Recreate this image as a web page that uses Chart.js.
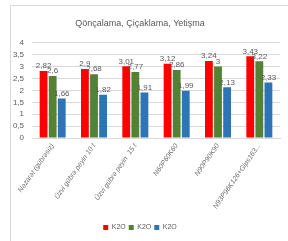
<!DOCTYPE html>
<html>
<head>
<meta charset="utf-8">
<script src="https://cdn.jsdelivr.net/npm/chart.js@4"></script>
<style>
  html, body { margin: 0; padding: 0; background: #fff; overflow: hidden; }
  .frame { position: absolute; left: 10px; top: 5px; width: 300px; height: 260px; border: 1px solid #d9d9d9; }
  .wrap { position: absolute; left: 0; top: 0; width: 288px; height: 241px; }
</style>
</head>
<body>
<div class="frame"></div>
<div class="wrap"><canvas id="chart" width="288" height="241"></canvas></div>
<script>
const categories = ["Nəzarət (gübrəsiz)", "Üzvi gübrə peyin 10 t", "Üzvi gübrə peyin  15 t", "N60P60K60", "N90P90K90", "N93P96K126+Gips163..."];
const redValues = [2.82, 2.9, 3.01, 3.12, 3.24, 3.43];
const greenValues = [2.6, 2.68, 2.77, 2.86, 3, 3.22];
const blueValues = [1.66, 1.82, 1.91, 1.99, 2.13, 2.33];
const seriesNames = ["K2O", "K2O", "K2O"];
const yTicks = [0, 0.5, 1, 1.5, 2, 2.5, 3, 3.5, 4];

const textGray = "#595959";
const fontFam = "'Liberation Sans Narrow', 'Liberation Sans', Arial, sans-serif";

const commaNum = function (v) {
  return String(v).replace(".", ",");
};

// value labels above every bar
const barLabels = {
  id: "barLabels",
  afterDatasetsDraw: function (chart) {
    const ctx = chart.ctx;
    ctx.save();
    ctx.fillStyle = textGray;
    ctx.font = "8px " + fontFam;
    ctx.textAlign = "center";
    ctx.textBaseline = "bottom";
    chart.data.datasets.forEach(function (ds, i) {
      chart.getDatasetMeta(i).data.forEach(function (bar, j) {
        ctx.fillText(commaNum(ds.data[j]), bar.x, bar.y - 1);
      });
    });
    ctx.restore();
  }
};

const config = {
  type: "bar",
  data: {
    labels: categories,
    datasets: [
      { label: seriesNames[0], data: redValues, backgroundColor: "#ff0000" },
      { label: seriesNames[1], data: greenValues, backgroundColor: "#548235" },
      { label: seriesNames[2], data: blueValues, backgroundColor: "#2e75b6" }
    ]
  },
  options: {
    responsive: false,
    animation: false,
    layout: { padding: { left: 0, right: 8, top: 0, bottom: 0 } },
    datasets: { bar: { categoryPercentage: 0.66, barPercentage: 0.86 } },
    scales: {
      x: {
        grid: { display: false, drawTicks: false },
        border: { color: "#d9d9d9" },
        ticks: {
          color: "#707070",
          font: { family: fontFam, size: 7, style: "italic" },
          maxRotation: 55,
          minRotation: 55,
          autoSkip: false,
          padding: 4
        },
        afterFit: function (scale) { scale.height = 83; }
      },
      y: {
        min: 0,
        max: 4,
        afterBuildTicks: function (scale) {
          scale.ticks = yTicks.map(function (v) { return { value: v }; });
        },
        grid: { color: "#d9d9d9", drawTicks: false },
        border: { display: false },
        ticks: {
          color: textGray,
          font: { family: fontFam, size: 8 },
          padding: 8,
          autoSkip: false,
          callback: function (v) { return commaNum(v); }
        },
        afterFit: function (scale) { scale.width = 32; }
      }
    },
    plugins: {
      title: {
        display: true,
        text: "Qönçalama, Çiçaklama, Yetişma",
        color: textGray,
        font: { family: fontFam, size: 9, weight: "normal" },
        padding: { top: 18, bottom: 14 }
      },
      legend: {
        position: "bottom",
        labels: {
          color: textGray,
          font: { family: fontFam, size: 7 },
          boxWidth: 5,
          boxHeight: 5,
          padding: 3
        }
      },
      tooltip: { enabled: false }
    }
  },
  plugins: [barLabels]
};

document.addEventListener("DOMContentLoaded", function () {
  new Chart(document.getElementById("chart").getContext("2d"), config);
});
</script>
</body>
</html>
